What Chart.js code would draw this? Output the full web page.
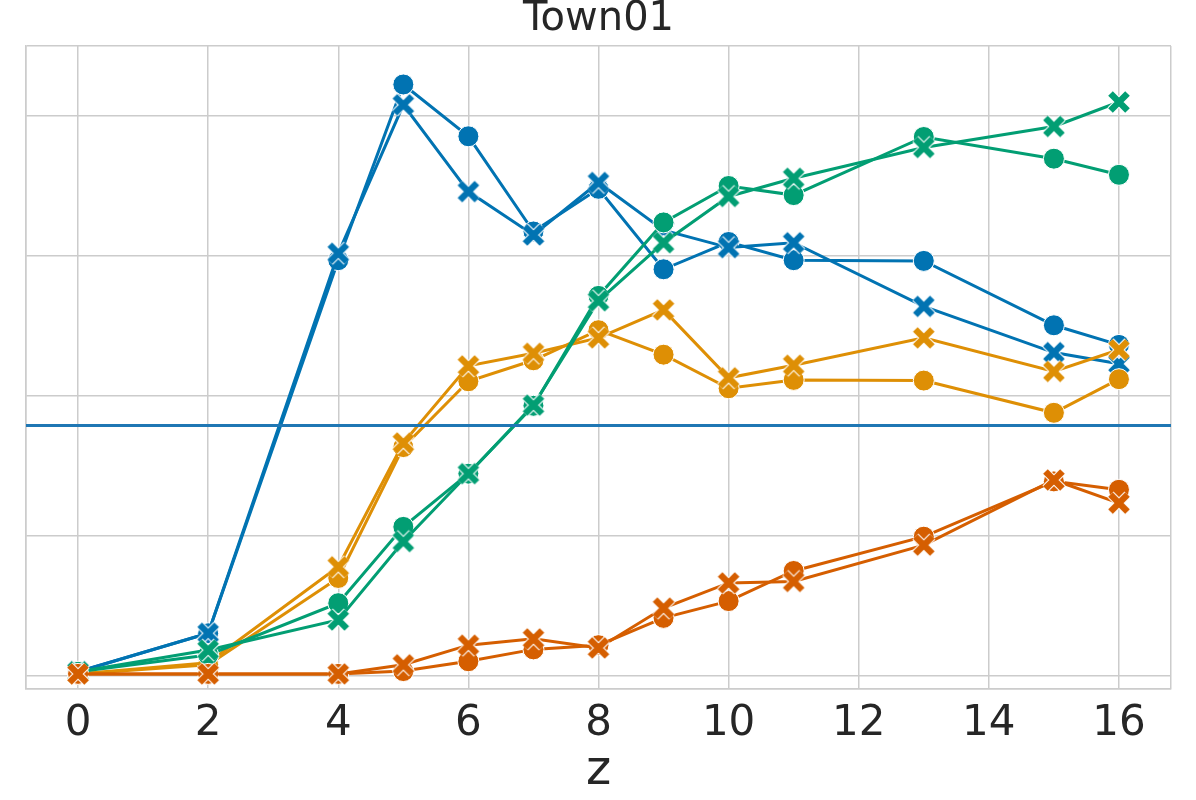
<!DOCTYPE html>
<html>
<head>
<meta charset="utf-8">
<script src="https://cdn.jsdelivr.net/npm/chart.js@4/dist/chart.umd.min.js"></script>
<style>
  body { margin: 0; background: #fff; }
  #wrap { width: 1196px; height: 800px; }
</style>
</head>
<body>
<div id="wrap"><canvas id="townChart" width="1196" height="800"></canvas></div>
<script>
// x positions (z)
const zValues = [0, 2, 4, 5, 6, 7, 8, 9, 10, 11, 13, 15, 16];
const xTickValues = [0, 2, 4, 6, 8, 10, 12, 14, 16];
const yGridValues = [0, 0.2, 0.4, 0.6, 0.8];

// series (o = circle marker, x = cross marker)
const blueO   = [0.006, 0.061, 0.594, 0.845, 0.771, 0.635, 0.696, 0.581, 0.620, 0.594, 0.593, 0.501, 0.473];
const blueX   = [0.006, 0.061, 0.604, 0.816, 0.692, 0.630, 0.705, 0.637, 0.612, 0.619, 0.528, 0.462, 0.446];
const orangeO = [0.003, 0.016, 0.140, 0.327, 0.421, 0.451, 0.494, 0.459, 0.411, 0.423, 0.422, 0.376, 0.424];
const orangeX = [0.003, 0.019, 0.156, 0.333, 0.443, 0.461, 0.483, 0.523, 0.426, 0.444, 0.483, 0.435, 0.466];
const greenO  = [0.006, 0.030, 0.104, 0.213, 0.289, 0.386, 0.543, 0.648, 0.700, 0.687, 0.770, 0.739, 0.716];
const greenX  = [0.006, 0.037, 0.080, 0.192, 0.289, 0.387, 0.536, 0.619, 0.685, 0.711, 0.755, 0.785, 0.820];
const redO    = [0.003, 0.003, 0.003, 0.007, 0.021, 0.038, 0.044, 0.083, 0.107, 0.150, 0.199, 0.278, 0.266];
const redX    = [0.003, 0.003, 0.003, 0.016, 0.044, 0.053, 0.040, 0.097, 0.133, 0.135, 0.187, 0.280, 0.247];
const baselineValue = 0.358;

const X_MIN = -0.8, X_MAX = 16.8;
const Y_MIN = -0.0186, Y_MAX = 0.9;

const BLUE = '#0173b2', ORANGE = '#de8f05', GREEN = '#029e73', RED = '#d55e00';
const GRID = '#cccccc';
const TEXT = '#262626';
const FONT = "'DejaVu Sans', sans-serif";

// filled "X" marker like matplotlib's, white edge
function makeCross(color) {
  const s = 26;
  const c = document.createElement('canvas');
  c.width = s; c.height = s;
  const g = c.getContext('2d');
  const a = 4.5, b = s - 4.5;
  g.lineCap = 'butt';
  g.strokeStyle = '#ffffff';
  g.lineWidth = 8.5;
  g.beginPath();
  g.moveTo(a, a); g.lineTo(b, b);
  g.moveTo(b, a); g.lineTo(a, b);
  g.stroke();
  g.strokeStyle = color;
  g.lineWidth = 6.5;
  g.beginPath();
  g.moveTo(a, a); g.lineTo(b, b);
  g.moveTo(b, a); g.lineTo(a, b);
  g.stroke();
  return c;
}

function pts(vals) {
  return zValues.map((z, i) => ({ x: z, y: vals[i] }));
}

function circleSet(vals, color) {
  return {
    data: pts(vals),
    borderColor: color,
    backgroundColor: color,
    borderWidth: 3,
    pointStyle: 'circle',
    pointRadius: 10.5,
    pointBorderColor: '#ffffff',
    pointBorderWidth: 1,
    pointBackgroundColor: color,
    tension: 0
  };
}

function crossSet(vals, color) {
  return {
    data: pts(vals),
    borderColor: color,
    backgroundColor: color,
    borderWidth: 3,
    pointStyle: makeCross(color),
    pointRadius: 11,
    tension: 0
  };
}

// Chart.js paints index 0 on top, so the list runs top -> bottom
const ctx = document.getElementById('townChart').getContext('2d');
const townChart = new Chart(ctx, {
  type: 'line',
  data: {
    datasets: [
      {
        data: [{ x: X_MIN, y: baselineValue }, { x: X_MAX, y: baselineValue }],
        borderColor: '#1f77b4',
        borderWidth: 3,
        pointRadius: 0
      },
      crossSet(redX, RED),
      circleSet(redO, RED),
      crossSet(greenX, GREEN),
      circleSet(greenO, GREEN),
      crossSet(orangeX, ORANGE),
      circleSet(orangeO, ORANGE),
      crossSet(blueX, BLUE),
      circleSet(blueO, BLUE)
    ]
  },
  options: {
    responsive: false,
    animation: false,
    events: [],
    layout: { padding: { left: 26, right: 25, top: 0, bottom: 0 } },
    plugins: {
      legend: { display: false },
      tooltip: { enabled: false },
      title: {
        display: true,
        text: 'Town01',
        color: TEXT,
        font: { family: FONT, size: 40, weight: 'normal', lineHeight: 1.0 },
        padding: { top: 0, bottom: 6 }
      }
    },
    scales: {
      x: {
        type: 'linear',
        min: X_MIN,
        max: X_MAX,
        afterBuildTicks: (scale) => {
          scale.ticks = [X_MIN].concat(xTickValues, [X_MAX]).map(v => ({ value: v }));
        },
        afterFit: (scale) => { scale.height = 111; },
        ticks: {
          autoSkip: false,
          maxRotation: 0,
          padding: 10,
          color: TEXT,
          font: { family: FONT, size: 42 },
          callback: (v) => xTickValues.includes(v) ? String(v) : ''
        },
        grid: { color: GRID, lineWidth: 1.5, drawTicks: false },
        border: { color: GRID, width: 1.5 },
        title: {
          display: true,
          text: 'z',
          color: TEXT,
          font: { family: FONT, size: 48 },
          padding: { top: 0, bottom: 0 }
        }
      },
      y: {
        min: Y_MIN,
        max: Y_MAX,
        afterBuildTicks: (scale) => {
          scale.ticks = [Y_MIN].concat(yGridValues, [Y_MAX]).map(v => ({ value: v }));
        },
        ticks: { display: false },
        grid: { color: GRID, lineWidth: 1.5, drawTicks: false },
        border: { color: GRID, width: 1.5 }
      }
    }
  }
});
</script>
</body>
</html>
